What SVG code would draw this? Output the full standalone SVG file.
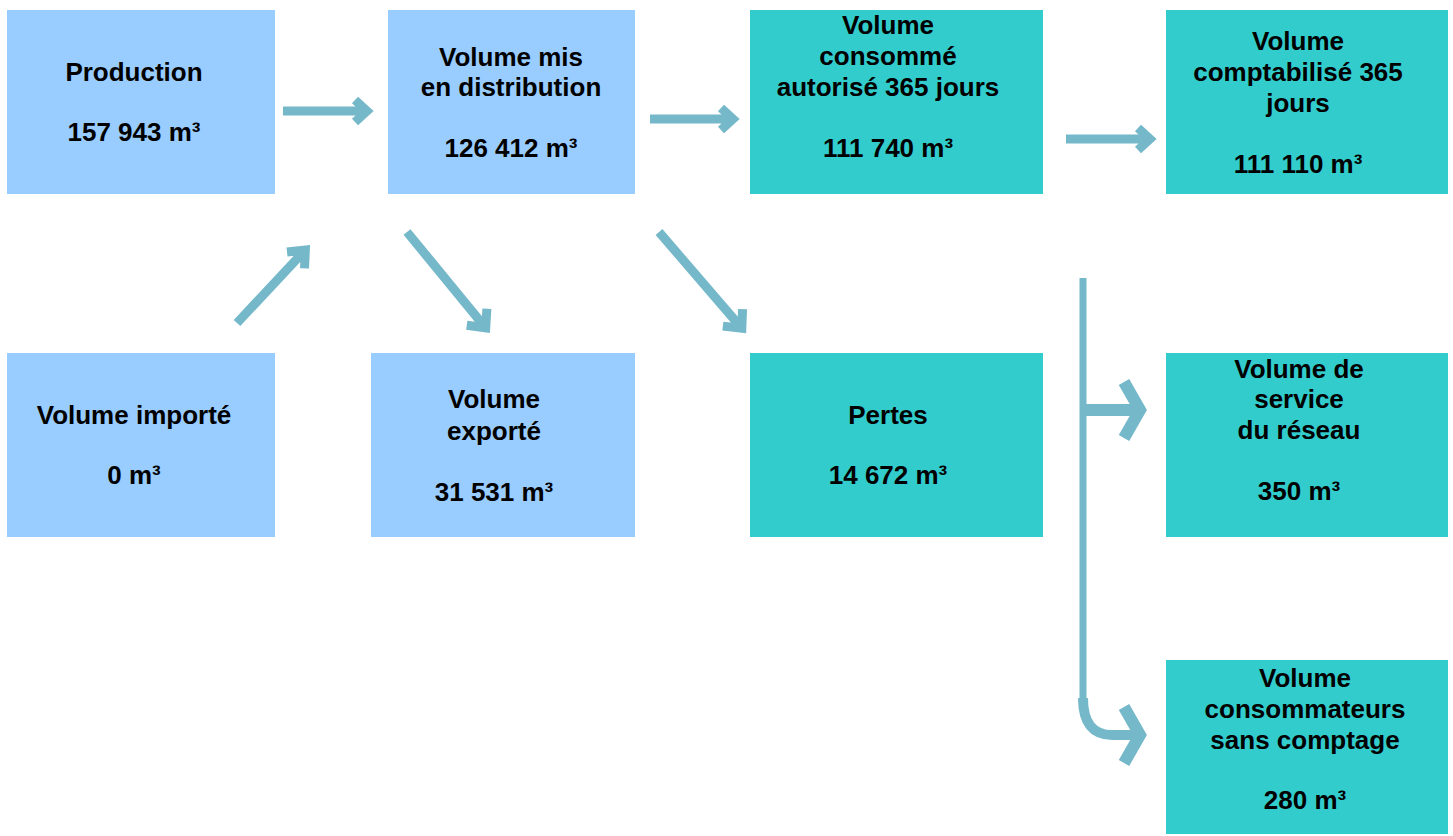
<svg xmlns="http://www.w3.org/2000/svg" width="1453" height="836" viewBox="0 0 1453 836">
<style>
.b{fill:#99CCFF}
.t{fill:#33CCCC}
text{font-family:"Liberation Sans",Arial,sans-serif;font-weight:bold;font-size:26px;fill:#000;text-anchor:middle}
.a{fill:none;stroke:#74B8CA;stroke-width:9;stroke-linejoin:miter;stroke-linecap:butt}
.v{fill:none;stroke:#74B8CA;stroke-width:7}
</style>
<rect width="1453" height="836" fill="#fff"/>
<g id="production"><rect class="b" x="7" y="10" width="268" height="184"/><text x="134" y="81">Production</text><text x="134" y="141">157 943 m³</text></g>
<g id="distribution"><rect class="b" x="388" y="10" width="247" height="184"/><text x="511" y="66">Volume mis</text><text x="511" y="96">en distribution</text><text x="511" y="157">126 412 m³</text></g>
<g id="consomme"><rect class="t" x="750" y="10" width="293" height="184"/><text x="888" y="34">Volume</text><text x="888" y="65">consommé</text><text x="888" y="96">autorisé 365 jours</text><text x="888" y="157">111 740 m³</text></g>
<g id="comptabilise"><rect class="t" x="1166" y="10" width="282" height="184"/><text x="1298" y="50">Volume</text><text x="1298" y="81">comptabilisé 365</text><text x="1298" y="112">jours</text><text x="1298" y="173">111 110 m³</text></g>
<g id="importe"><rect class="b" x="7" y="353" width="268" height="184"/><text x="134" y="424">Volume importé</text><text x="134" y="484">0 m³</text></g>
<g id="exporte"><rect class="b" x="371" y="353" width="264" height="184"/><text x="494" y="408">Volume</text><text x="494" y="440">exporté</text><text x="494" y="501">31 531 m³</text></g>
<g id="pertes"><rect class="t" x="750" y="353" width="293" height="184"/><text x="888" y="424">Pertes</text><text x="888" y="484">14 672 m³</text></g>
<g id="service"><rect class="t" x="1166" y="353" width="282" height="184"/><text x="1299" y="378">Volume de</text><text x="1299" y="408">service</text><text x="1299" y="439">du réseau</text><text x="1299" y="500">350 m³</text></g>
<g id="sanscomptage"><rect class="t" x="1166" y="660" width="282" height="174"/><text x="1305" y="687">Volume</text><text x="1305" y="718">consommateurs</text><text x="1305" y="749">sans comptage</text><text x="1305" y="809">280 m³</text></g>
<g id="connectors">
<g transform="translate(283,111)"><path class="a" d="M0 0H82M72 -11L84 0L72 11"/></g>
<g transform="translate(650,119)"><path class="a" d="M0 0H81M71 -11L83 0L71 11"/></g>
<g transform="translate(1066,139)"><path class="a" d="M0 0H82M72 -11L84 0L72 11"/></g>
<g transform="translate(237,323) rotate(-46.9)"><path class="a" d="M0 0H98M86 -12L100 0L86 12"/></g>
<g transform="translate(407,232) rotate(50.6)"><path class="a" d="M0 0H122M110 -13L124 0L110 13"/></g>
<g transform="translate(659,232) rotate(49.3)"><path class="a" d="M0 0H125M113 -13L127 0L113 13"/></g>
<path class="v" d="M1083 278V705"/>
<path class="a" d="M1083 698Q1083 735 1112 735H1138" style="stroke-width:10"/>
<path class="a" d="M1083 410H1138M1124 382L1140 410L1124 438" style="stroke-width:12"/>
<path class="a" d="M1124 707L1140 735L1124 763" style="stroke-width:12"/>
</g>
</svg>
